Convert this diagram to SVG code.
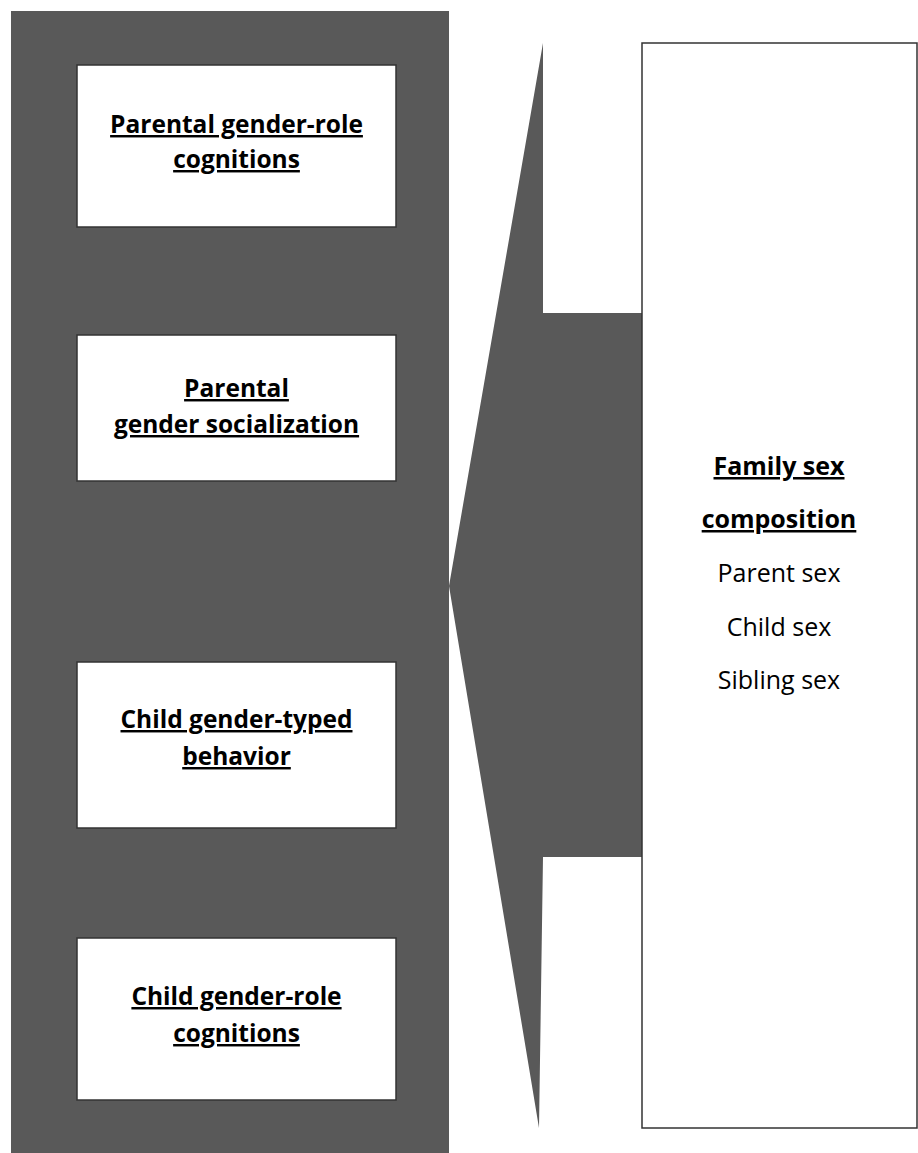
<svg xmlns="http://www.w3.org/2000/svg" width="918" height="1153" viewBox="0 0 918 1153">
<style>
.box{fill:#fff;stroke:#333;stroke-width:1.5}
.t{font-family:"Open Sans","Liberation Sans",sans-serif;font-size:24.5px;fill:#000;text-anchor:middle;font-variant-ligatures:none}
.r{font-size:25px}
.b{font-weight:bold;text-decoration:underline}
</style>
<rect width="918" height="1153" fill="#fff"/>
<rect id="panel" x="11" y="11" width="438" height="1150" fill="#595959"/>
<g id="connectors">
<polygon points="449,586 543,43 543,313 642,313 642,857 543,857 539,1128" fill="#595959"/>
</g>
<g id="n1"><rect class="box" x="77" y="65" width="319" height="162"/>
<text class="t b" x="236.5" y="133">Parental gender-role</text>
<text class="t b" x="236.5" y="168">cognitions</text></g>
<g id="n2"><rect class="box" x="77" y="335" width="319" height="146"/>
<text class="t b" x="236.5" y="397">Parental</text>
<text class="t b" x="236.5" y="433">gender socialization</text></g>
<g id="n3"><rect class="box" x="77" y="662" width="319" height="166"/>
<text class="t b" x="236.5" y="728">Child gender-typed</text>
<text class="t b" x="236.5" y="765">behavior</text></g>
<g id="n4"><rect class="box" x="77" y="938" width="319" height="162"/>
<text class="t b" x="236.5" y="1005">Child gender-role</text>
<text class="t b" x="236.5" y="1042">cognitions</text></g>
<g id="n5"><rect class="box" x="642" y="43" width="275" height="1085"/>
<text class="t r b" x="779" y="475">Family sex</text>
<text class="t r b" x="779" y="528">composition</text>
<text class="t r" x="779" y="582">Parent sex</text>
<text class="t r" x="779" y="636">Child sex</text>
<text class="t r" x="779" y="689">Sibling sex</text></g>
</svg>
